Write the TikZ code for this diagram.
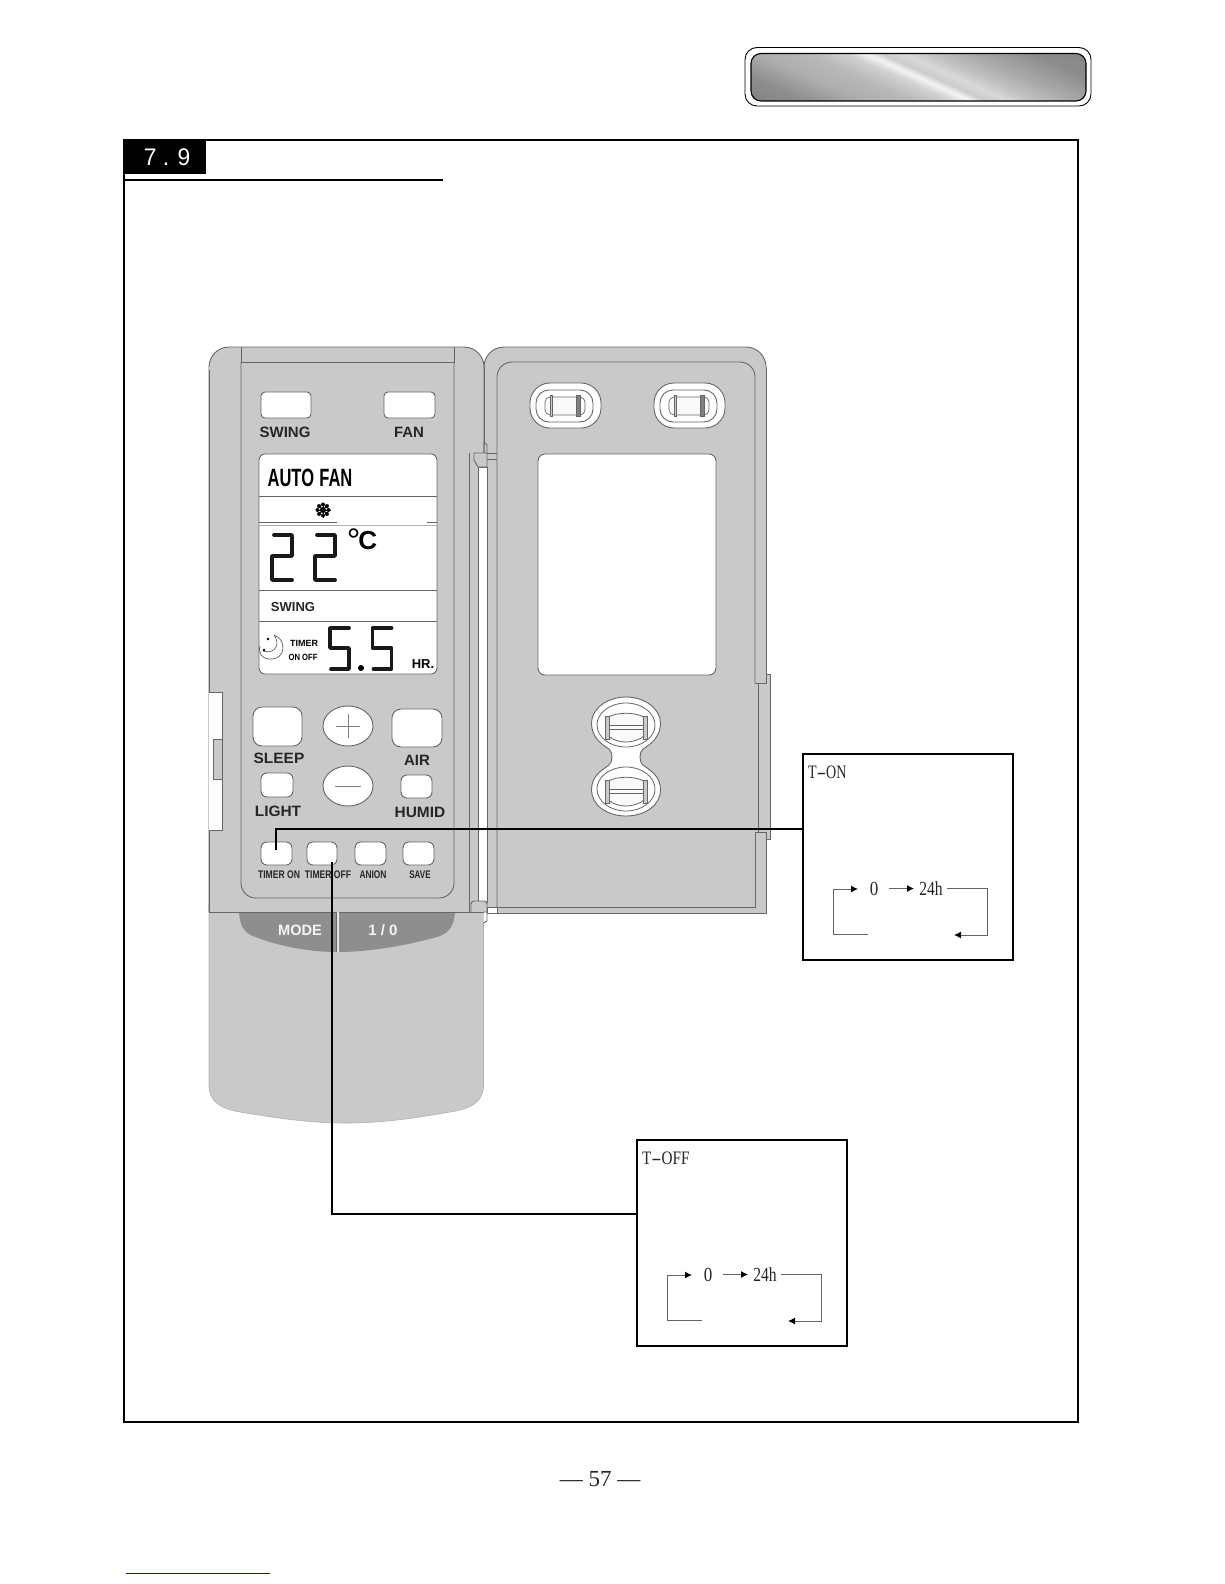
\documentclass[tikz,border=0pt]{standalone}
\usepackage{graphicx}
\usepackage{fontspec}
\setmainfont{Liberation Serif}
\setsansfont{Liberation Sans}
\usetikzlibrary{arrows.meta,shapes.geometric}
\definecolor{bodygray}{HTML}{C9C9C9}
\definecolor{edgegray}{HTML}{666666}
\definecolor{modegray}{HTML}{8E8E8E}
\definecolor{rulenavy}{HTML}{1A1A8C}
\newcommand{\lbl}[3]{{\fontsize{#1}{#1}\sffamily\bfseries\scalebox{#2}[1]{#3}}}
\newcommand{\serif}[3]{{\fontsize{#1}{#1}\rmfamily\scalebox{#2}[1]{#3}}}
\newcommand{\wdash}{\scalebox{2}[1]{-}}
\tikzset{
  edge/.style={draw=edgegray,line width=.9pt},
  softkey/.style={draw=edgegray,line width=.9pt,fill=white,rounded corners=5pt,inner sep=0pt},
  ovalkey/.style={draw=edgegray,line width=.9pt,fill=white,ellipse,inner sep=0pt,minimum width=50pt,minimum height=40pt},
  txt/.style={inner sep=0pt,text=black!85},
  seg/.style={draw=black!90,line width=3.8pt,line cap=round,line join=round},
  lead/.style={draw=black,line width=1.9pt},
  flow/.style={draw=black!60,line width=1pt},
  flowarrow/.style={flow,-{Latex[length=7pt,width=7pt,color=black]}},
  timerframe/.style={draw=black,line width=2.2pt,fill=white,minimum width=210pt,minimum height=206pt,inner sep=0pt},
}
\newcommand{\keyat}[6]{\node[softkey,minimum width=#3pt,minimum height=#4pt,rounded corners=#5pt] (#1) at (#2) {#6};}
\newcommand{\clipshape}[1]{%
  \begin{scope}[shift={(#1)}]
    \draw[edge,fill=white,rounded corners=20pt] (530,383) rectangle (601,428);
    \draw[edge,fill=white,rounded corners=13pt] (536,390) rectangle (593,422);
    \draw[edge,fill=white!90!bodygray,rounded corners=5pt,line width=.7pt] (545,397) rectangle (585,415);
    \draw[edge,fill=bodygray,line width=.7pt] (550,395) rectangle (552.5,416);
    \draw[edge,fill=gray,line width=.5pt] (576,395) rectangle (580,416);
  \end{scope}}
\newcommand{\timerbox}[2]{%
  \node[timerframe] (frame) at (908,857) {};
  \node[txt,anchor=west] (title) at (808,772) {\serif{19}{#2}{#1}};
  \node[txt,inner xsep=5pt] (zero) at (874,889) {\serif{20}{.85}{0}};
  \node[txt,inner xsep=4pt] (hours) at (931,889) {\serif{20}{.78}{24h}};
  \coordinate (backstart) at (868,934);
  \coordinate (backend) at (954,935);
  \coordinate (corner) at (987,935);
  \coordinate (leftc) at (833,934);
  \coordinate (tip) at (858,889);
  \draw[flowarrow] (backstart) -- (leftc) -- (leftc |- tip) -- (tip);
  \draw[flowarrow] (889,888.5) -- (914,888.5);
  \draw[flowarrow] (947,888.5) -- (987,888.5) -- (corner) -- (backend);
}
\begin{document}
\begin{tikzpicture}[x=1pt,y=-1pt]
\useasboundingbox (0,0) rectangle (1224,1584);
\fill[white] (0,0) rectangle (1224,1584);

% chrome badge
\draw[black,line width=.9pt,fill=white,rounded corners=12pt] (745,47.5) rectangle (1091,106);
\begin{scope}
  \clip[rounded corners=10pt] (751,53.5) rectangle (1086,101);
  \foreach \ua/\ga/\ub/\gb in {690/.50/753/.56,753/.56/807/.68,807/.68/857/.72,857/.72/897/.82,897/.82/917/.95,917/.95/932/.80,932/.80/953/.85,953/.85/980/.76,980/.76/1023/.66,1023/.66/1083/.55,1083/.55/1150/.52}{
    \pgfmathtruncatemacro{\nsteps}{(\ub-\ua)/3}
    \foreach \k in {0,...,\nsteps}{
      \pgfmathsetmacro{\uu}{\ua+3*\k}
      \pgfmathsetmacro{\gg}{\ga+(\gb-\ga)*\k/\nsteps}
      \definecolor{stripcolor}{gray}{\gg}
      \fill[stripcolor] (\uu-60,50) -- (\uu-56,50) -- (\uu+64,104) -- (\uu+60,104) -- cycle;
    }
  }
\end{scope}
\draw[black,line width=1.1pt,rounded corners=10pt] (751,53.5) rectangle (1086,101);

% page frame
\draw[black,line width=2pt] (124,140) rectangle (1078,1422);
\fill[black] (124,140) rectangle (206,174);
\node[txt,text=white] (secnum) at (167,157) {\lbl{24}{.95}{\mdseries 7 . 9}};
\draw[black,line width=1.4pt] (124,180) -- (443,180);

% lower body
\path[fill=bodygray,draw=black!30,line width=.6pt] (209,905) -- (483.5,905) -- (483.5,1086)
  .. controls (483.5,1102) and (470,1109) .. (450,1112)
  .. controls (410,1119) and (380,1123) .. (346,1123)
  .. controls (312,1123) and (282,1119) .. (240,1112)
  .. controls (222,1109) and (209,1102) .. (209,1086) -- cycle;

% door tab and door
\draw[edge,fill=bodygray] (758,674) -- (770,674) -- (770,839) -- (758,839) -- cycle;
\draw[edge,fill=bodygray,rounded corners=20pt] (487,913) -- (484,913) -- (484,347) -- (766,347) -- (766,500);
\fill[bodygray] (487,367) -- (495,350) -- (750,348) -- (766,367) -- (766,683) -- (758,683) -- (758,832) -- (766,832) -- (766,913) -- (487,913) -- cycle;
\draw[edge] (484,367) -- (484,442);
\draw[edge] (766,367) -- (766,683) -- (755,683);
\draw[edge] (758,683) -- (758,832);
\draw[edge] (755,832) -- (766,832) -- (766,913) -- (497,913);
\draw[edge,rounded corners=15pt] (497,907) -- (497,362) -- (755,362) -- (755,683);
\draw[edge] (497,907) -- (755,907) -- (755,832);
\node[draw=edgegray,line width=.9pt,fill=white,rounded corners=7pt,minimum width=178pt,minimum height=221pt,inner sep=0pt] (window) at (627,564.5) {};
\clipshape{0,0}
\clipshape{124,0}
% figure of eight latch
\draw[edge,fill=white] (626,697) .. controls (645,697) and (660.5,709) .. (660.5,723)
  .. controls (660.5,737) and (651,744) .. (643,749)
  .. controls (639,752) and (639,762) .. (643,765)
  .. controls (651,771) and (660.5,776) .. (660.5,790)
  .. controls (660.5,805) and (645,816) .. (626,816)
  .. controls (607,816) and (591.5,805) .. (591.5,790)
  .. controls (591.5,776) and (601,771) .. (609,765)
  .. controls (613,762) and (613,752) .. (609,749)
  .. controls (601,744) and (591.5,737) .. (591.5,723)
  .. controls (591.5,709) and (607,697) .. (626,697) -- cycle;
\foreach \cy/\ry in {725/22,789/22}{
  \draw[edge,line width=.8pt] (626,\cy) ellipse [x radius=29,y radius=\ry];
  \draw[edge,fill=white!90!bodygray,line width=.8pt] (608,\cy+2-10) .. controls (618,\cy-13) and (634,\cy-13) .. (644,\cy+2-10) -- (644,\cy+2+9) .. controls (634,\cy+19) and (618,\cy+19) .. (608,\cy+2+9) -- cycle;
  \draw[edge,line width=.8pt] (608,\cy) -- (644,\cy) (608,\cy+4) -- (644,\cy+4);
  \draw[edge,fill=bodygray,line width=.7pt] (605,\cy-9) rectangle (609,\cy+14);
  \draw[edge,fill=bodygray,line width=.7pt] (643,\cy-9) rectangle (647,\cy+14);
}

% upper body
\draw[edge,fill=bodygray,rounded corners=20pt] (209,912) -- (209,347) -- (484,347) -- (484,460);
\fill[bodygray] (209,367) -- (229,350) -- (463,350) -- (482,367) -- (482,912) -- (209,912) -- cycle;
\draw[edge] (209,370) -- (209,912) (209,912) -- (473,912);
\draw[edge] (484,367) -- (484,442);
% hinge strip
\draw[edge,fill=white] (478,467) rectangle (487,902);
\draw[edge] (469,453) -- (469,912);
\draw[edge,fill=bodygray] (474,453) -- (487,453) -- (487,467) -- (478,467) -- (474,460) -- cycle;
\draw[edge] (484,453) -- (484,442) -- (487,445) -- (487,453);
\draw[edge] (487,453) -- (497,453) (487,459) -- (497,459);
\draw[edge,fill=bodygray,rounded corners=3pt] (471,912) -- (471,901) -- (487,901) -- (487,913);
\draw[edge,fill=white] (487,907) rectangle (497,913);
\draw[edge,fill=white] (483.5,912) -- (487,912) -- (487,921) -- (483.5,923);
% left tab
\draw[edge,fill=white] (209,692) -- (222,692) -- (222,830) -- (209,830);
\draw[edge,fill=bodygray] (222,739) -- (213,739) -- (213,779) -- (222,779);
% panel
\draw[edge] (241,347) -- (241,362) -- (454,362) -- (454,347);
\draw[edge,rounded corners=15pt] (241,362) -- (241,898) -- (454,898) -- (454,362);

% keys and labels
\keyat{swingkey}{286,405}{50}{26}{4}{}
\keyat{fankey}{409.5,405}{51}{26}{4}{}
\node[txt] (swinglabel) at (285,432) {\lbl{15}{1}{SWING}};
\node[txt] (fanlabel) at (409,432) {\lbl{15}{1}{FAN}};

% LCD
\node[draw=edgegray,line width=.9pt,fill=white,rounded corners=6pt,minimum width=178pt,minimum height=220pt,inner sep=0pt] (lcd) at (348,564) {};
\draw[edge] (259,496) -- (437,496);
\draw[edge] (259,522) -- (337,522) (427,522) -- (437,522);
\draw[gray!60,line width=.8pt] (259,525) -- (437,525);
\draw[edge] (259,590) -- (437,590);
\draw[edge] (259,621) -- (437,621);
\node[txt,text=black] (autofan) at (310,478) {\lbl{25}{.66}{AUTO\hspace{8pt}FAN}};
% snowflake
\foreach \a in {0,45,...,315}{
  \fill[black] (323,510) ++(\a:5.5) circle (2pt);
  \draw[black,line width=.9pt] (323,510) -- ++(\a:7.5);
}
\fill[black] (323,510) circle (3pt);
\foreach \dx in {0,43}{
  \begin{scope}[shift={(\dx,0)}]
    \draw[seg] (274,535) -- (292,535) -- (292,556) -- (272,556) -- (272,580) -- (292,580);
  \end{scope}
}
\node[txt,text=black] (degc) at (362,541) {{\fontsize{26}{26}\sffamily\raisebox{-3pt}{\fontsize{34}{34}\selectfont\mdseries °}\hspace{-2pt}\bfseries C}};
\node[txt] (lcdswing) at (293,607) {\lbl{13}{1}{SWING}};
% moon icon
\draw[black!70,line width=.6pt] (274,635) .. controls (287,639) and (286,660) .. (270,659) .. controls (262,659) and (258,653) .. (260,646);
\draw[black!70,line width=.6pt] (274,635) .. controls (280,642) and (277,655) .. (263,651);
\fill[black] (268,639) circle (1.4pt) (264,650) circle (1.4pt);
\node[txt,text=black] (lcdtimer) at (304,643) {\lbl{9}{1}{TIMER}};
\node[txt,text=black] (lcdonoff) at (303,657) {\lbl{9}{.85}{ON OFF}};
\foreach \dx in {0,42.5}{
  \begin{scope}[shift={(\dx,0)}]
    \draw[seg] (349,628) -- (330,628) -- (330,648) -- (349,648) -- (349,669) -- (331,669);
  \end{scope}
}
\fill[black] (361,668) circle (3pt);
\node[txt,text=black] (hr) at (423,664) {\lbl{13}{1}{HR.}};

\keyat{sleepkey}{277.5,726.5}{49}{39}{9}{}
\keyat{airkey}{417,728}{50}{38}{9}{}
\node[ovalkey] (pluskey) at (348,726) {};
\node[ovalkey] (minuskey) at (348,786) {};
\draw[gray,line width=.9pt] (336,726) -- (360,726) (348,714) -- (348,738);
\draw[gray,line width=.9pt] (335,786) -- (361,786);
\node[txt] (sleeplabel) at (279,758) {\lbl{15}{1.03}{SLEEP}};
\node[txt] (airlabel) at (417,760) {\lbl{15}{1}{AIR}};
\keyat{lightkey}{277,785}{32}{24}{6}{}
\keyat{humidkey}{416.5,786.5}{31}{23}{6}{}
\node[txt] (lightlabel) at (278,811) {\lbl{15}{1.03}{LIGHT}};
\node[txt] (humidlabel) at (420,812) {\lbl{15}{1.03}{HUMID}};
\keyat{timeronkey}{276.5,853.5}{31}{23}{6}{}
\keyat{timeroffkey}{322,853.5}{30}{23}{6}{}
\keyat{anionkey}{370.5,853.5}{31}{23}{6}{}
\keyat{savekey}{418.5,853.5}{31}{23}{6}{}
\node[txt] (timeronlabel) at (279,875) {\lbl{11}{.78}{TIMER ON}};
\node[txt] (timerofflabel) at (328,875) {\lbl{11}{.78}{TIMER OFF}};
\node[txt] (anionlabel) at (373,875) {\lbl{11}{.76}{ANION}};
\node[txt] (savelabel) at (420,875) {\lbl{11}{.73}{SAVE}};

% mode bar
\fill[modegray] (239,912) -- (455,912) .. controls (454,925) and (450,932) .. (440,936)
  .. controls (410,945) and (370,952) .. (338,952)
  .. controls (305,952) and (275,945) .. (253,936)
  .. controls (243,932) and (240,925) .. (239,912) -- cycle;
\draw[edge] (209,912) -- (484,912);
\draw[white!80!gray,line width=2.4pt] (338,912) -- (338,952);
\draw[edge,line width=.6pt] (336,912) -- (336,952);
\node[txt,text=white!92!gray] (modelabel) at (300,930) {\lbl{15}{.97}{MODE}};
\node[txt,text=white!92!gray] (powerlabel) at (383,930) {\lbl{15}{1}{1 / 0}};

% timer boxes
\begin{scope}[name prefix=on-]
  \timerbox{T\wdash ON}{.74}
\end{scope}
\begin{scope}[shift={(-166,386)},name prefix=off-]
  \timerbox{T\wdash OFF}{.8}
\end{scope}

% connectors
\coordinate (onpin) at (276,850);
\coordinate (onend) at (on-frame.west |- 0,829);
\draw[lead] (onpin) |- (onend);
\coordinate (offpin) at (332,862);
\coordinate (offend) at (off-frame.west |- 0,1214);
\draw[lead] (offpin) |- (offend);

% footer
\node[txt] (pageno) at (600,1479) {\serif{23}{1}{— 57 —}};
\draw[rulenavy,line width=1pt] (126,1573.5) -- (270,1573.5);
\end{tikzpicture}
\end{document}
